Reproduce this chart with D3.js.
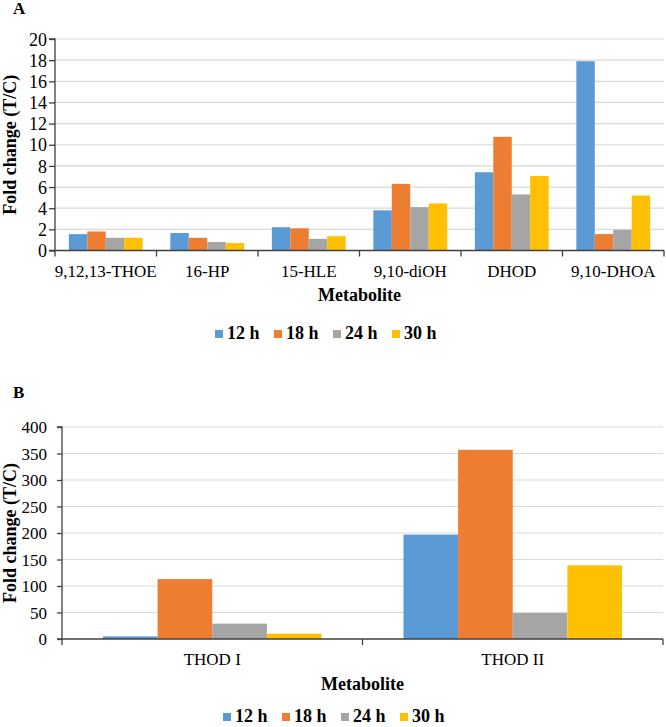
<!DOCTYPE html>
<html>
<head>
<meta charset="utf-8">
<script src="https://cdn.jsdelivr.net/npm/d3@7"></script>
<style>
  html, body { margin: 0; padding: 0; background: #fff; }
  svg { display: block; }
  text { font-family: "Liberation Serif", "Times New Roman", serif; fill: #000; }
</style>
</head>
<body>
<svg id="chart" width="666" height="727"></svg>
<script>
// ---------- DATA ----------
const seriesNames = ["12 h", "18 h", "24 h", "30 h"];
const seriesColors = ["#5B9BD5", "#ED7D31", "#A5A5A5", "#FFC000"];

const categoriesA = ["9,12,13-THOE", "16-HP", "15-HLE", "9,10-diOH", "DHOD", "9,10-DHOA"];
const valuesA_12h = [1.55, 1.65, 2.2, 3.8, 7.4, 17.9];
const valuesA_18h = [1.8, 1.2, 2.1, 6.3, 10.75, 1.55];
const valuesA_24h = [1.2, 0.8, 1.1, 4.1, 5.3, 1.95];
const valuesA_30h = [1.2, 0.7, 1.35, 4.45, 7.05, 5.2];
const ticksA = [0, 2, 4, 6, 8, 10, 12, 14, 16, 18, 20];

const categoriesB = ["THOD I", "THOD II"];
const valuesB_12h = [5, 197];
const valuesB_18h = [113, 357];
const valuesB_24h = [29, 49];
const valuesB_30h = [10, 139];
const ticksB = [0, 50, 100, 150, 200, 250, 300, 350, 400];

// ---------- DRAW ----------
const svg = d3.select("#chart");

function panel(opts) {
  const { cats, vals, ticks, x0, x1, yTop, yBot, letter, letterY, catY, titleY, legendX, legendY, tickPad, tickSize, yFont } = opts;
  const g = svg.append("g");
  const x = d3.scaleBand().domain(cats).range([x0, x1]).padding(0);
  const y = d3.scaleLinear().domain([ticks[0], ticks[ticks.length - 1]]).range([yBot, yTop]);
  const bw = x.bandwidth();
  const xs = d3.scaleBand().domain(seriesNames).range([bw * 0.75 / 5.5, bw * 4.75 / 5.5]).padding(0);

  // gridlines
  g.append("g").selectAll("line").data(ticks.slice(1)).join("line")
    .attr("x1", x0).attr("x2", x1)
    .attr("y1", d => y(d)).attr("y2", d => y(d))
    .attr("stroke", "#D9D9D9").attr("stroke-width", 1.2);

  // bars
  const rows = cats.map((c, i) => ({ c, v: vals.map(s => s[i]) }));
  const grp = g.append("g").selectAll("g").data(rows).join("g")
    .attr("transform", d => `translate(${x(d.c)},0)`);
  grp.selectAll("rect").data(d => d.v.map((v, k) => ({ v, k }))).join("rect")
    .attr("x", d => xs(seriesNames[d.k]))
    .attr("width", xs.bandwidth())
    .attr("y", d => y(d.v))
    .attr("height", d => y(0) - y(d.v))
    .attr("fill", d => seriesColors[d.k]);

  // y axis
  const yAxis = d3.axisLeft(y).tickValues(ticks).tickSize(tickSize).tickPadding(tickPad).tickFormat(d3.format("d"));
  const ya = g.append("g").attr("transform", `translate(${x0},0)`).call(yAxis);
  ya.select(".domain").attr("stroke", "#404040").attr("stroke-width", 1.3).attr("d", `M-${tickSize},${yTop}H0V${yBot}H-${tickSize}`);
  ya.selectAll(".tick line").attr("stroke", "#404040").attr("stroke-width", 1.3);
  ya.selectAll(".tick text").attr("font-size", yFont).attr("fill", "#000")
    .attr("font-family", "Liberation Serif, serif").attr("dy", "0.34em");

  // x axis (ticks at band boundaries)
  const boundaries = cats.map(c => x(c)).concat([x1]);
  const xa = g.append("g");
  xa.append("line").attr("x1", x0).attr("x2", x1).attr("y1", yBot).attr("y2", yBot)
    .attr("stroke", "#404040").attr("stroke-width", 1.3);
  xa.selectAll("line.t").data(boundaries).join("line").attr("class", "t")
    .attr("x1", d => d).attr("x2", d => d).attr("y1", yBot).attr("y2", yBot + 6)
    .attr("stroke", "#404040").attr("stroke-width", 1.3);
  xa.selectAll("text").data(cats).join("text")
    .attr("x", d => x(d) + bw / 2).attr("y", catY)
    .attr("text-anchor", "middle").attr("font-size", 17).text(d => d);

  // titles
  g.append("text").attr("x", 13).attr("y", letterY).attr("font-size", 17).attr("font-weight", "bold").text(letter);
  g.append("text").attr("transform", `translate(16,${(yTop + yBot) / 2}) rotate(-90)`)
    .attr("text-anchor", "middle").attr("font-size", 18).attr("font-weight", "bold").text("Fold change (T/C)");
  g.append("text").attr("x", (x0 + x1) / 2).attr("y", titleY)
    .attr("text-anchor", "middle").attr("font-size", 18).attr("font-weight", "bold").text("Metabolite");

  // legend
  const lg = g.append("g").attr("transform", `translate(${legendX},${legendY})`);
  const items = lg.selectAll("g").data(seriesNames).join("g")
    .attr("transform", (d, i) => `translate(${i * 59},0)`);
  items.append("rect").attr("x", 0).attr("y", -9).attr("width", 8).attr("height", 8)
    .attr("fill", (d, i) => seriesColors[i]);
  items.append("text").attr("x", 12).attr("y", 0).attr("font-size", 18).attr("font-weight", "bold").text(d => d);
}

panel({
  cats: categoriesA, vals: [valuesA_12h, valuesA_18h, valuesA_24h, valuesA_30h], ticks: ticksA,
  x0: 55, x1: 664, yTop: 39, yBot: 250.5, letter: "A", letterY: 14,
  catY: 277, titleY: 301, legendX: 215, legendY: 339, tickPad: 2, tickSize: 6, yFont: 18
});
panel({
  cats: categoriesB, vals: [valuesB_12h, valuesB_18h, valuesB_24h, valuesB_30h], ticks: ticksB,
  x0: 62, x1: 663, yTop: 427, yBot: 639, letter: "B", letterY: 398,
  catY: 665, titleY: 690, legendX: 223, legendY: 722, tickPad: 10, tickSize: 5, yFont: 17
});
</script>
</body>
</html>
